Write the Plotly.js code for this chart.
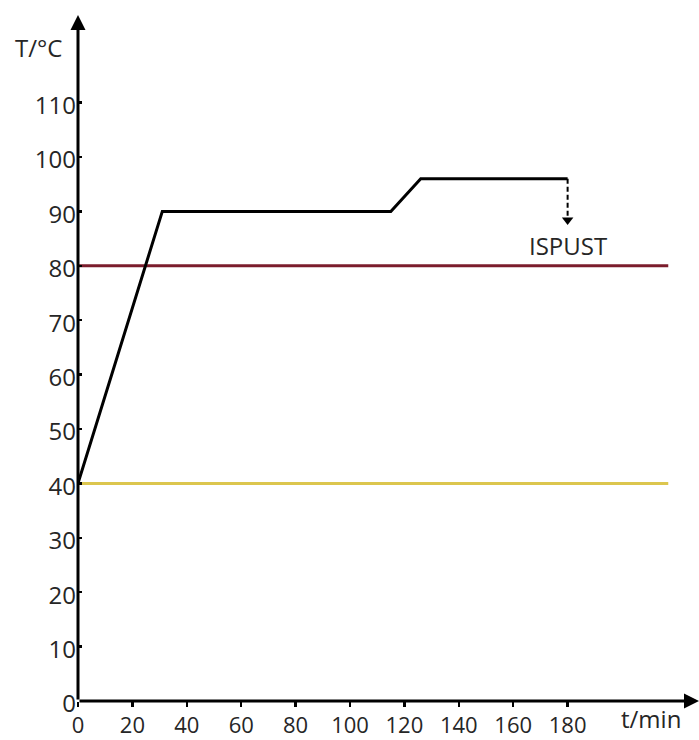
<!DOCTYPE html>
<html>
<head>
<meta charset="utf-8">
<script src="https://cdn.plot.ly/plotly-3.0.1.min.js"></script>
<style>html,body{margin:0;padding:0;background:#fff;}#chart{width:699px;height:740px;}</style>
</head>
<body>
<div id="chart"></div>
<script>
// Temperature profile (t in min, T in °C)
const profileTime = [0, 31, 115, 126, 180];
const profileTemp = [40, 90, 90, 96, 96];
// Reference limits
const limitTime = [0, 217];
const redLimit = [80, 80];
const yellowLimit = [40, 40];
// Discharge marker
const dischargeTime = [180, 180];
const dischargeTemp = [96, 89];
const dischargeLabel = "ISPUST";
const dischargeLabelTemp = 83.8;
// Ticks
const xTicks = [0, 20, 40, 60, 80, 100, 120, 140, 160, 180];
const yTicks = [0, 10, 20, 30, 40, 50, 60, 70, 80, 90, 100, 110];
const xLabel = "t/min";
const yLabel = "T/°C";

const xMax = 228.3, yMax = 126.1;
const font = {family: "'Open Sans', 'Noto Sans', sans-serif", size: 24, color: "#262626"};
const xTickFont = {family: "'Open Sans', 'Noto Sans', sans-serif", size: 22, color: "#262626"};

const traces = [
  {x: limitTime, y: yellowLimit, mode: "lines", line: {color: "#dcc64e", width: 3}, hoverinfo: "skip"},
  {x: limitTime, y: redLimit, mode: "lines", line: {color: "#7b1c2c", width: 3}, hoverinfo: "skip"},
  {x: profileTime, y: profileTemp, mode: "lines", line: {color: "#000", width: 3}, hoverinfo: "skip"},
  {x: dischargeTime, y: dischargeTemp, mode: "lines", line: {color: "#000", width: 2, dash: "5px,3px"}, hoverinfo: "skip"},
  {x: [dischargeTime[1]], y: [dischargeTemp[1] - 0.6], mode: "markers", marker: {symbol: "triangle-down", size: 10, color: "#000"}, hoverinfo: "skip"}
];

const layout = {
  width: 699, height: 740,
  margin: {l: 78, r: 0, t: 15, b: 39},
  paper_bgcolor: "#fff", plot_bgcolor: "#fff",
  showlegend: false,
  font: font,
  xaxis: {
    range: [0, xMax], showgrid: false, zeroline: false, showline: false,
    tickvals: xTicks, ticktext: xTicks.map(String),
    ticks: "outside", ticklen: 5, tickwidth: 2.5, tickcolor: "#000",
    tickfont: xTickFont, ticklabelstandoff: 0
  },
  yaxis: {
    range: [0, yMax], showgrid: false, zeroline: false, showline: false,
    tickvals: yTicks, ticktext: yTicks.map(String),
    ticks: "inside", ticklen: 4, tickwidth: 2.5, tickcolor: "#000",
    tickfont: font, ticklabelshift: 3, ticklabelstandoff: 1
  },
  annotations: [
    {x: xMax, y: 0, ax: 0, ay: 0, xref: "x", yref: "y", axref: "x", ayref: "y",
     showarrow: true, arrowhead: 2, arrowsize: 1, arrowwidth: 3, arrowcolor: "#000", text: ""},
    {x: 0, y: yMax, ax: 0, ay: 0, xref: "x", yref: "y", axref: "x", ayref: "y",
     showarrow: true, arrowhead: 2, arrowsize: 1, arrowwidth: 3, arrowcolor: "#000", text: ""},
    {x: -0.064, y: 0.952, xref: "paper", yref: "paper", text: yLabel, showarrow: false, font: font, xanchor: "center", yanchor: "middle"},
    {x: 0.923, y: -0.026, xref: "paper", yref: "paper", text: xLabel, showarrow: false, font: font, xanchor: "center", yanchor: "middle"},
    {x: 180, y: dischargeLabelTemp, xref: "x", yref: "y", text: dischargeLabel, showarrow: false, font: font, xanchor: "center", yanchor: "middle"}
  ]
};

Plotly.newPlot("chart", traces, layout, {displayModeBar: false, staticPlot: true});
</script>
</body>
</html>
